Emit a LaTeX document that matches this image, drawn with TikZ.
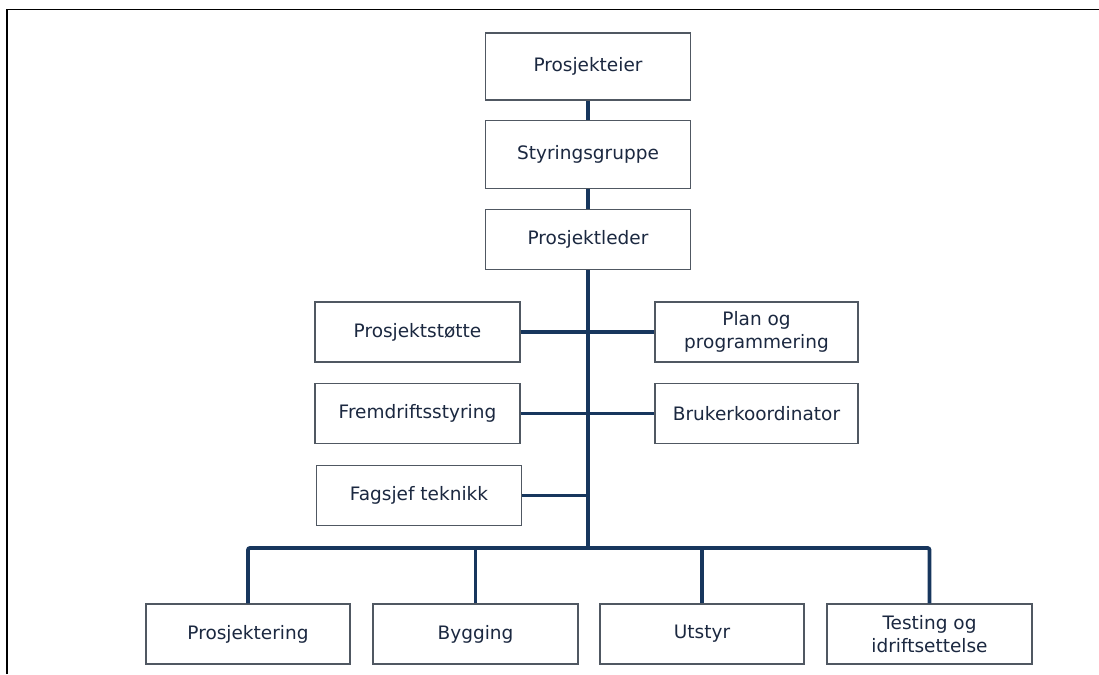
\documentclass[tikz,border=0pt]{standalone}
\usepackage{fontspec}
\setmainfont{DejaVu Sans}
\usepackage{xcolor}
\usetikzlibrary{positioning}
\definecolor{linkblue}{HTML}{17365D}
\definecolor{textnavy}{HTML}{1B2840}
\definecolor{boxgray}{HTML}{505862}

\begin{document}
\begin{tikzpicture}[x=1pt, y=1pt, every node/.style={font=\fontsize{18.5}{22.5}\selectfont}]
    \tikzstyle{unit} = [rectangle, draw=boxgray, line width=1.3pt, fill=white, text=textnavy, minimum width=205pt, minimum height=60pt, align=center, inner sep=2pt]
    \tikzstyle{link} = [draw=linkblue, line width=3.8pt]

    \useasboundingbox (0,0) rectangle (1099,674);
    \draw[black, line width=1.5pt] (7,0) -- (7,664.5) -- (1099,664.5);

    \node[unit, minimum height=67pt] (eier) at (588,607.5) {Prosjekteier};
    \node[unit, minimum height=68pt, below=19pt of eier] (styring) {Styringsgruppe};
    \node[unit, below=20pt of styring] (leder) {Prosjektleder};

    \node[unit] (stotte) at (417.5,342) {Prosjektstøtte};
    \node[unit, minimum width=203pt] (plan) at (756.5,342) {Plan og\\programmering};
    \node[unit] (fremdrift) at (417.5,260.5) {Fremdriftsstyring};
    \node[unit, minimum width=203pt] (bruker) at (756.5,260.5) {Brukerkoordinator};
    \node[unit] (fagsjef) at (419,178.5) {Fagsjef teknikk};

    \coordinate (bus) at (588,126);
    \node[unit, minimum width=204pt] (prosjektering) at (248,40) {Prosjektering};
    \node[unit] (bygging) at (475.5,40) {Bygging};
    \node[unit, minimum width=204pt] (utstyr) at (702,40) {Utstyr};
    \node[unit] (testing) at (929.5,40) {Testing og\\idriftsettelse};

    \draw[link] (eier) -- (styring);
    \draw[link] (styring) -- (leder);
    \draw[link] (leder) -- (bus);
    \draw[link] (stotte) -- (plan);
    \draw[link] (fremdrift) -- (bruker);
    \draw[link] (fagsjef.east) -- (fagsjef.east -| bus);
    \draw[link, rounded corners=2pt] (prosjektering.north) |- (bus) -| (testing.north);
    \draw[link] (bygging.north) -- (bygging.north |- bus);
    \draw[link] (utstyr.north) -- (utstyr.north |- bus);
\end{tikzpicture}
\end{document}
